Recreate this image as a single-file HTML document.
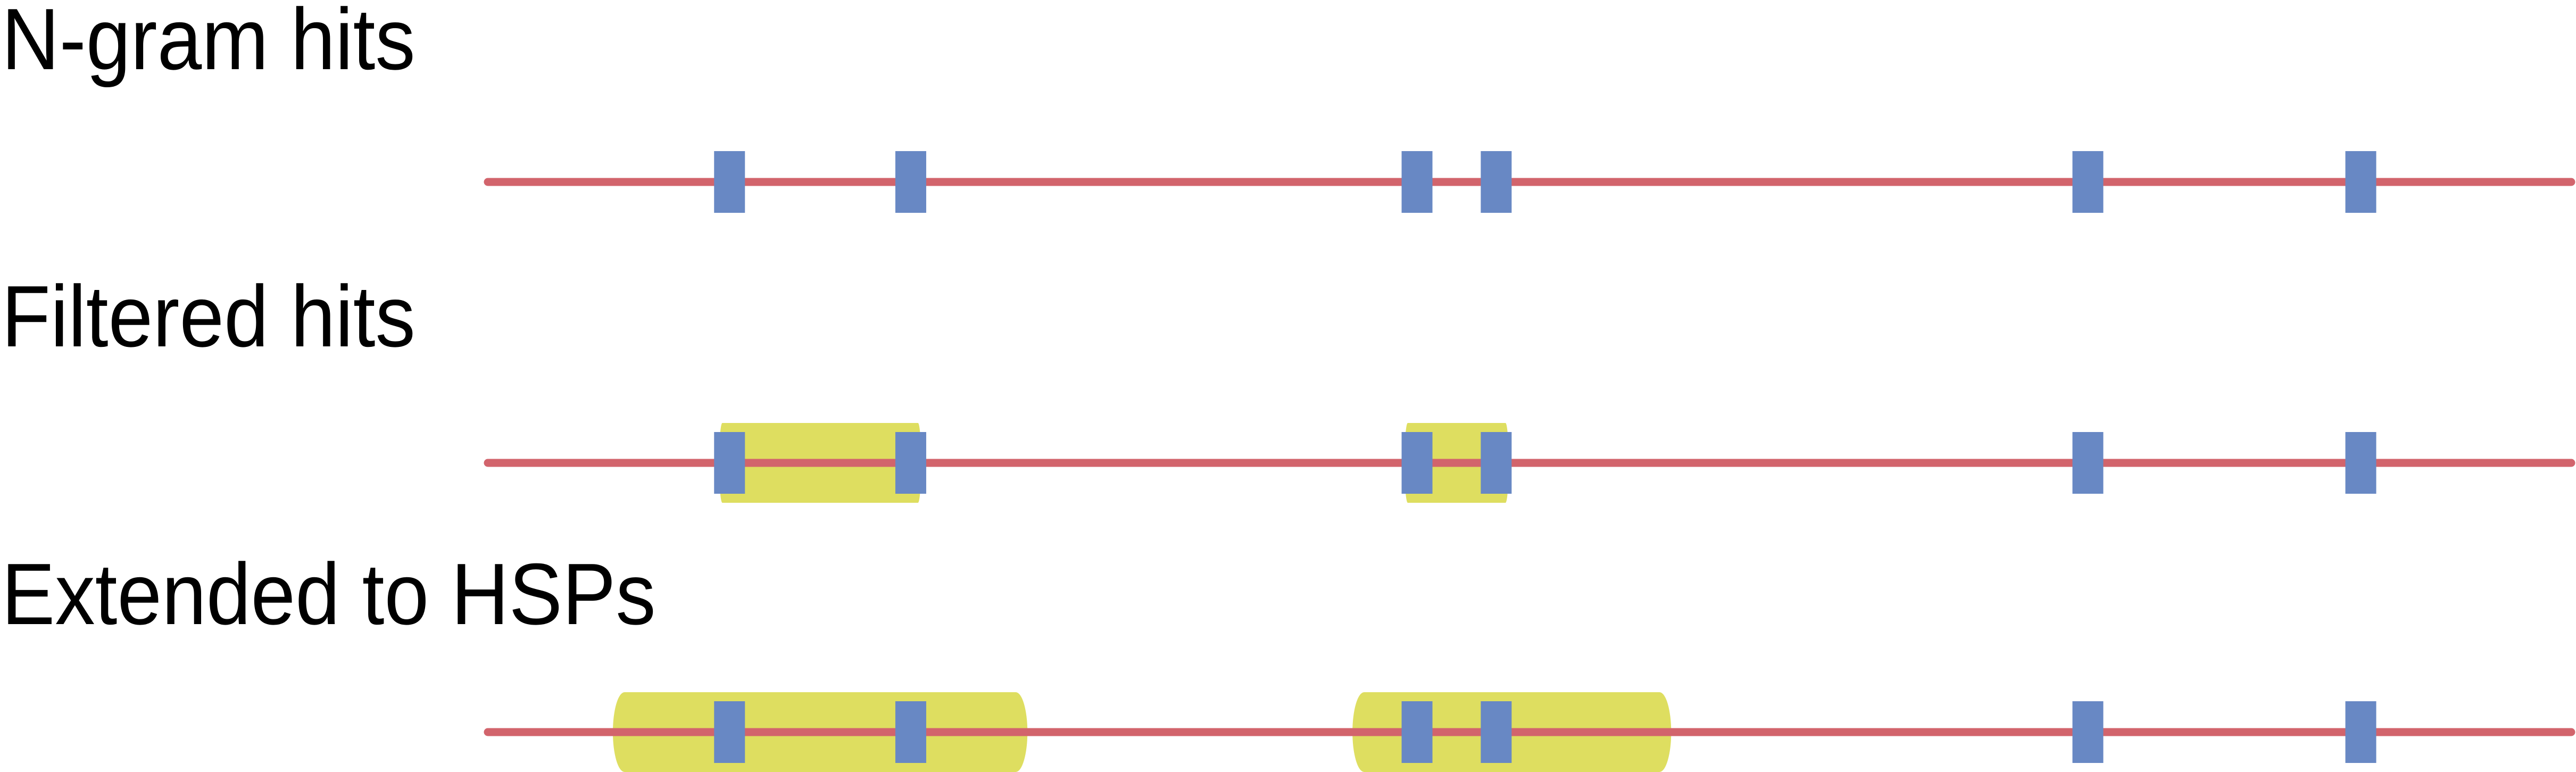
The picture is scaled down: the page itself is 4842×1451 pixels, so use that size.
<!DOCTYPE html>
<html><head><meta charset="utf-8"><style>
html,body{margin:0;padding:0;background:#fff;}
svg{display:block;}
text{font-family:"Liberation Sans",Arial,sans-serif;font-size:149px;fill:#000;}
</style></head><body>
<svg id="chart" width="4842" height="1451" viewBox="0 0 4842 1451" xmlns="http://www.w3.org/2000/svg">
<text x="0" y="0" transform="translate(3,130) scale(1.01,1.1)">N-gram hits</text>
<text x="0" y="0" transform="translate(3,651) scale(1.01,1.1)">Filtered hits</text>
<text x="0" y="0" transform="translate(3,1173) scale(1.01,1.1)">Extended to HSPs</text>
<g id="marks"></g>
</svg>
<script>
// sequence coordinates 0..1000
const hits = [116, 203, 446, 484, 768, 899];
const filteredStarts = [111, 440];
const filteredEnds = [208, 490];
const extendedStarts = [60, 415];
const extendedEnds = [259, 568];
const rowNames = ['ngram', 'filtered', 'extended'];

const X0 = 917, X1 = 4833;
function x(v){ return X0 + v * (X1 - X0) / 1000; }
const rowY = [342, 870, 1376];
const NS = 'http://www.w3.org/2000/svg';
const g = document.getElementById('marks');
function mk(tag, attrs){ const e = document.createElementNS(NS, tag); for (const k in attrs) e.setAttribute(k, attrs[k]); g.appendChild(e); return e; }

function regions(starts, ends, cy, rx, name){
  for (let i = 0; i < starts.length; i++){
    const e = mk('rect', {x: x(starts[i]), y: cy - 75, width: x(ends[i]) - x(starts[i]), height: 150, rx: rx, ry: 75, fill: '#dede60'});
    
    
  }
}
regions(filteredStarts, filteredEnds, rowY[1], 6, 'filtered-region');
regions(extendedStarts, extendedEnds, rowY[2], 22, 'hsp-region');

rowY.forEach((cy, r) => {
  const l = mk('line', {x1: x(0), y1: cy, x2: x(1000), y2: cy, stroke: '#d2646c', 'stroke-width': 15, 'stroke-linecap': 'round'});
  
  
  hits.forEach((h, i) => {
    const b = mk('rect', {x: x(h) - 29, y: cy - 58, width: 58, height: 116, fill: '#6888c4'});
    
    
  });
});
</script>
</body></html>
